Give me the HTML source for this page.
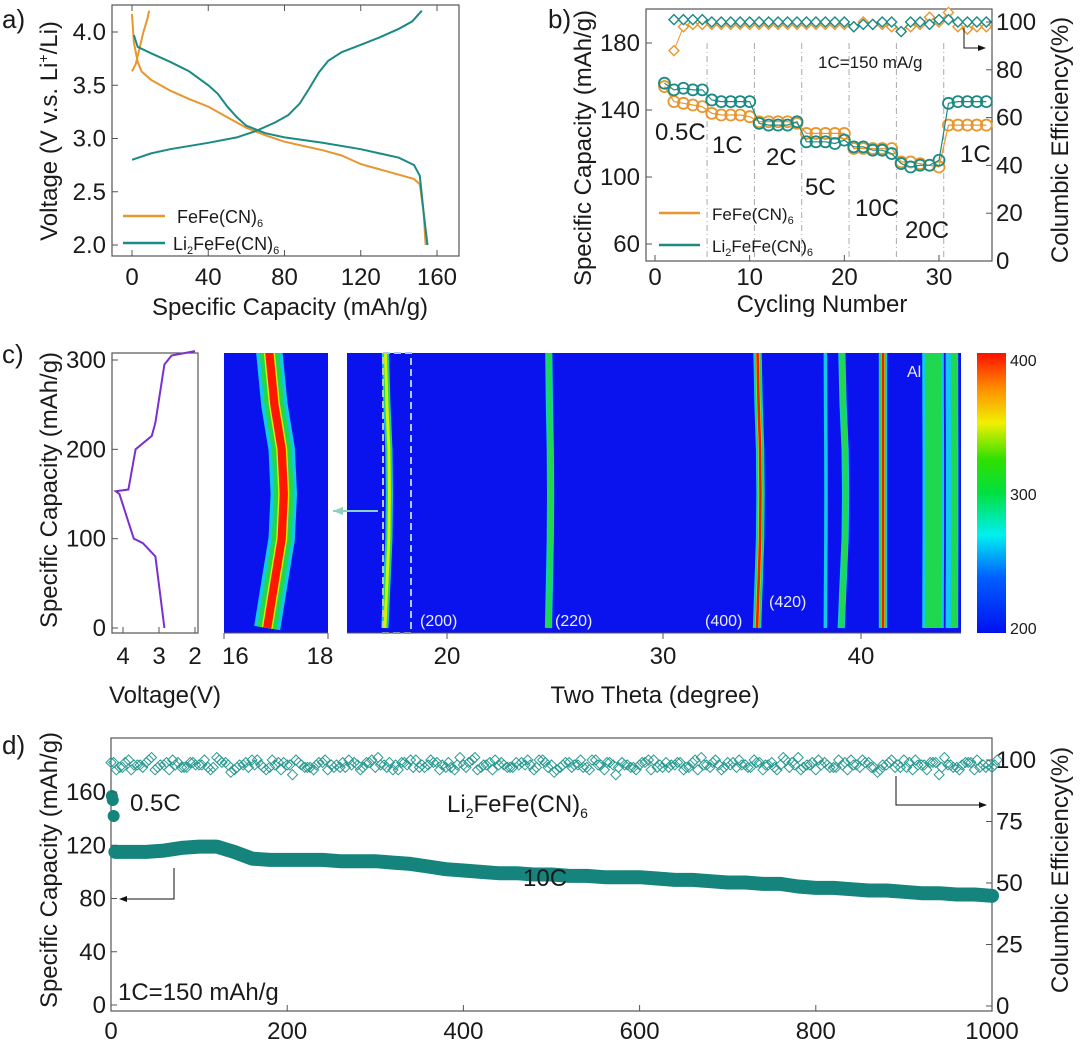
<!DOCTYPE html>
<html><head><meta charset="utf-8">
<style>
html,body{margin:0;padding:0;background:#fff;}
svg{display:block;font-family:"Liberation Sans",sans-serif;}
</style></head>
<body>
<svg id="fig" width="1080" height="1041" viewBox="0 0 1080 1041" xmlns="http://www.w3.org/2000/svg">
<defs>
<linearGradient id="cbar" x1="0" y1="1" x2="0" y2="0">
<stop offset="0" stop-color="#0010f0"/><stop offset="0.2" stop-color="#0060ff"/><stop offset="0.35" stop-color="#00f0f0"/>
<stop offset="0.5" stop-color="#00e040"/><stop offset="0.62" stop-color="#30e000"/><stop offset="0.75" stop-color="#f0f000"/>
<stop offset="0.87" stop-color="#ff9000"/><stop offset="1" stop-color="#ff1000"/></linearGradient>
<marker id="arr" markerWidth="8" markerHeight="6" refX="7" refY="3" orient="auto"><path d="M0,0 L8,3 L0,6 z" fill="#111"/></marker>
</defs>
<g id="root"></g>
</svg>
<script>
// ---------- Panel a data ----------
const aFeDisX=[0,1,3,5,10,20,30,40,50,60,70,80,90,100,110,120,130,140,148,151,153,154];
const aFeDisV=[4.17,3.9,3.72,3.63,3.55,3.45,3.37,3.3,3.2,3.1,3.03,2.97,2.93,2.89,2.84,2.76,2.71,2.66,2.62,2.57,2.3,2.0];
const aFeChX=[0,2,4,6,8,9];
const aFeChV=[3.63,3.7,3.85,4.0,4.12,4.2];
const aLiChX=[0,10,20,40,55,65,75,82,88,93,98,103,110,120,130,140,147,152];
const aLiChV=[2.8,2.86,2.9,2.96,3.01,3.07,3.15,3.22,3.33,3.47,3.62,3.73,3.81,3.88,3.95,4.03,4.1,4.2];
const aLiDisX=[1,3,10,20,30,40,45,50,55,60,70,80,100,120,140,148,151,153,155];
const aLiDisV=[3.97,3.86,3.8,3.72,3.63,3.5,3.42,3.3,3.2,3.12,3.05,3.01,2.96,2.9,2.82,2.75,2.65,2.3,2.0];
const aXTicks=[0,40,80,120,160];
const aYTicks=[2.0,2.5,3.0,3.5,4.0];
// ---------- Panel b data ----------
const bCycles=[1,2,3,4,5,6,7,8,9,10,11,12,13,14,15,16,17,18,19,20,21,22,23,24,25,26,27,28,29,30,31,32,33,34,35];
const bLiCap=[156,152,153,152,152,146,145,145,145,145,132,131,131,131,133,121,121,121,120,122,118,118,116,116,114,108,106,107,107,110,144,145,145,145,145];
const bFeCap=[154,145,144,143,142,138,137,137,137,136,133,133,133,133,132,126,126,126,126,126,117,117,117,117,117,109,109,108,107,106,131,131,131,131,131];
const bCECycles=[2,3,4,5,6,7,8,9,10,11,12,13,14,15,16,17,18,19,20,21,22,23,24,25,26,27,28,29,30,31,32,33,34,35];
const bFeCE=[88,98,99,99,99,99,99,99,99,99,99,99,99,99,99,99,99,99,99,98,100,99,99,98,96,98,99,102,100,104,98,97,98,98];
const bLiCE=[101,101,101,101,100,100,100,100,100,100,100,100,100,100,100,100,100,100,100,98,99,99,100,100,96,100,100,99,101,101,100,100,100,100];
const bRates=["0.5C","1C","2C","5C","10C","20C","1C"];
const bXTicks=[0,10,20,30];
const bYTicks=[60,100,140,180];
const bY2Ticks=[0,20,40,60,80,100];
// ---------- Panel c data ----------
const cCap=[0,80,95,100,150,153,155,200,215,230,295,305,310];
const cVolt=[2.85,3.1,3.45,3.7,4.1,4.2,3.85,3.65,3.2,3.1,2.85,2.65,2.0];
const cShiftCap=[0,50,100,150,200,250,310];
const cShift=[0,0.07,0.14,0.16,0.14,0.07,0.02];
const cPeaks=[16.83,19.13,24.7,34.75,38.2,39.0,41.1,43.6,44.35,44.65];
const cPeakLevel=[3,2,1.7,2.4,0.4,1.0,3,1.0,0.6,1.0];
const cPeakShiftScale=[2,0.4,0.6,1.1,0.2,1.4,0,0.1,0.1,0.1];
const cPeakWidth=[11,3,3,3.5,1.5,3,3.5,9,2,3.5];
const cPeakLabels=["(200)","(220)","(400)","(420)","Al"];
const cYTicks=[0,100,200,300];
const cVTicks=[4,3,2];
const c2Ticks=[20,30,40];
const cbTicks=[200,300,400];
// ---------- Panel d data ----------
const dCycles=[1,2,3,5,20,40,60,80,100,120,140,160,180,200,220,240,260,280,300,320,340,360,380,400,420,440,460,480,500,520,540,560,580,600,620,640,660,680,700,720,740,760,780,800,820,840,860,880,900,920,940,960,980,1000];
const dCap=[157,154,142,115,115,115,116,118,119,119,115,110,109,109,109,109,108,108,108,107,106,104,102,101,100,99,99,98,98,97,97,96,96,96,95,94,94,93,92,92,91,91,89,88,88,87,86,86,85,84,84,83,83,82];
const dCE=[99,97,100,98,99,96,98,100,97,99,98,97,101,99,96,98,100,98,97,99,98,100,97,96,99,98,97,100,98,99,97,98,96,99,100,97,98,99,97,96,98,100,97,99,98,97,99,98,96,100,98,97,99,98,97,100,96,98,99,97,98,100,97,99,98,96,99,101,97,98,99,97,98,100,96,99,98,97,101,98,96,99,97,98,100,97,99,95,98,97,100,96,98,99,94,98,97,99,96,98,97];
const dXTicks=[0,200,400,600,800,1000];
const dYTicks=[0,40,80,120,160];
const dY2Ticks=[0,25,50,75,100];

const NS="http://www.w3.org/2000/svg";
const root=document.getElementById('root');
function mk(tag,attrs,parent,text){const e=document.createElementNS(NS,tag);for(const k in attrs)e.setAttribute(k,attrs[k]);if(text!==undefined)e.textContent=text;(parent||root).appendChild(e);return e;}
function lin(d0,d1,p0,p1){return v=>p0+(v-d0)*(p1-p0)/(d1-d0);}
function path(xs,ys,fx,fy){return xs.map((x,i)=>(i?'L':'M')+fx(x).toFixed(1)+','+fy(ys[i]).toFixed(1)).join(' ');}
const AX='#555', TXT='#1a1a1a', OR='#e8962e', TE='#1b8a84';
const FS=24, TFS=24;

// ===== Panel a =====
const ga=mk('g',{});


const ax=lin(0,160,132,437), ay=lin(4,2,32,245);
mk('text',{x:2,y:28,'font-size':26,fill:TXT},ga,'a)');
mk('rect',{x:112,y:5,width:347,height:251,fill:'none',stroke:AX,'stroke-width':1.2},ga);
const curvesA=[[aFeDisX,aFeDisV,OR,'fefe-discharge-curve'],[aFeChX,aFeChV,OR,'fefe-charge-curve'],[aLiChX,aLiChV,TE,'li2fefe-charge-curve'],[aLiDisX,aLiDisV,TE,'li2fefe-discharge-curve']];
curvesA.forEach(c=>{const p=mk('path',{d:path(c[0],c[1],ax,ay),fill:'none',stroke:c[2],'stroke-width':2},ga);

});
aXTicks.forEach(t=>{mk('line',{x1:ax(t),x2:ax(t),y1:256,y2:250,stroke:AX},ga);mk('line',{x1:ax(t),x2:ax(t),y1:5,y2:11,stroke:AX},ga);
const l=mk('text',{x:ax(t),y:285,'font-size':FS,'text-anchor':'middle',fill:TXT},ga,String(t));

});
aYTicks.forEach(t=>{mk('line',{x1:112,x2:118,y1:ay(t),y2:ay(t),stroke:AX},ga);
const l=mk('text',{x:106,y:ay(t)+8,'font-size':FS,'text-anchor':'end',fill:TXT},ga,t.toFixed(1));

});
mk('text',{x:290,y:315,'font-size':TFS,'text-anchor':'middle',fill:TXT},ga,'Specific Capacity (mAh/g)');
const aty=mk('text',{x:0,y:0,'font-size':TFS,'text-anchor':'middle',fill:TXT,transform:'translate(57,131) rotate(-90)'},ga);
aty.innerHTML='Voltage (V v.s. Li<tspan font-size="14" dy="-9">+</tspan><tspan dy="9">/Li)</tspan>';


mk('line',{x1:123,x2:165,y1:216,y2:216,stroke:OR,'stroke-width':2.5},ga);
mk('line',{x1:123,x2:165,y1:243,y2:243,stroke:TE,'stroke-width':2.5},ga);
const la1=mk('text',{x:177,y:223,'font-size':18,fill:TXT},ga);la1.innerHTML='FeFe(CN)<tspan font-size="11" dy="4">6</tspan>';


const la2=mk('text',{x:173,y:250,'font-size':18,fill:TXT},ga);la2.innerHTML='Li<tspan font-size="11" dy="4">2</tspan><tspan dy="-4">FeFe(CN)</tspan><tspan font-size="11" dy="4">6</tspan>';



// ===== Panel b =====
const gb=mk('g',{});


const bx=lin(0,30,655,939), by=lin(180,60,43,244), by2=lin(0,100,261,22);
mk('text',{x:548,y:28,'font-size':26,fill:TXT},gb,'b)');
mk('rect',{x:646,y:9,width:346,height:252,fill:'none',stroke:AX,'stroke-width':1.2},gb);
[5.5,10.5,15.5,20.5,25.5,30.5].forEach(c=>{mk('line',{x1:bx(c),x2:bx(c),y1:43,y2:261,stroke:'#aaa','stroke-dasharray':'6,3,1,3'},gb);});
[[bFeCap,OR,'fefe-capacity'],[bLiCap,TE,'li2fefe-capacity']].forEach(s=>{
 mk('path',{d:path(bCycles,s[0],bx,by),fill:'none',stroke:s[1],'stroke-width':1.2},gb);
 s[0].forEach((v,i)=>{const c=mk('circle',{cx:bx(bCycles[i]),cy:by(v),r:5.5,fill:'none',stroke:s[1],'stroke-width':1.8},gb);
 
 });
});
[[bFeCE,OR,'fefe-ce'],[bLiCE,TE,'li2fefe-ce']].forEach(s=>{
 mk('path',{d:path(bCECycles,s[0],bx,by2),fill:'none',stroke:s[1],'stroke-width':1},gb);
 s[0].forEach((v,i)=>{const X=bx(bCECycles[i]),Y=Math.max(by2(v),12);const d=mk('path',{d:`M${X},${Y-5} L${X+5},${Y} L${X},${Y+5} L${X-5},${Y} Z`,fill:'#fff',stroke:s[1],'stroke-width':1.4},gb);
 
 });
});
bXTicks.forEach(t=>{mk('line',{x1:bx(t),x2:bx(t),y1:261,y2:255,stroke:AX},gb);
const l=mk('text',{x:bx(t),y:285,'font-size':FS,'text-anchor':'middle',fill:TXT},gb,String(t));

});
bYTicks.forEach(t=>{mk('line',{x1:646,x2:652,y1:by(t),y2:by(t),stroke:AX},gb);
const l=mk('text',{x:640,y:by(t)+8,'font-size':FS,'text-anchor':'end',fill:TXT},gb,String(t));

});
bY2Ticks.forEach(t=>{mk('line',{x1:992,x2:986,y1:by2(t),y2:by2(t),stroke:AX},gb);
const l=mk('text',{x:996,y:by2(t)+8,'font-size':FS,fill:TXT},gb,String(t));

});
mk('text',{x:822,y:312,'font-size':TFS,'text-anchor':'middle',fill:TXT},gb,'Cycling Number');
mk('text',{x:0,y:0,'font-size':TFS,'text-anchor':'middle',fill:TXT,transform:'translate(591,148) rotate(-90)'},gb,'Specific Capacity (mAh/g)');
mk('text',{x:0,y:0,'font-size':TFS,'text-anchor':'middle',fill:TXT,transform:'translate(1068,140) rotate(-90)'},gb,'Columbic Efficiency(%)');
mk('text',{x:818,y:68,'font-size':17,fill:TXT},gb,'1C=150 mA/g');
mk('path',{d:'M964,28 L964,48 L985,48',fill:'none',stroke:'#111','marker-end':'url(#arr)'},gb);
const rateX=[655,712,766,805,855,905,960], rateY=[140,153,165,195,216,238,162];
bRates.forEach((r,i)=>{const t=mk('text',{x:rateX[i],y:rateY[i],'font-size':24,fill:TXT},gb,r);

});
mk('line',{x1:659,x2:700,y1:213,y2:213,stroke:OR,'stroke-width':2.5},gb);
mk('line',{x1:659,x2:700,y1:245,y2:245,stroke:TE,'stroke-width':2.5},gb);
const lb1=mk('text',{x:712,y:220,'font-size':17,fill:TXT},gb);lb1.innerHTML='FeFe(CN)<tspan font-size="11" dy="4">6</tspan>';


const lb2=mk('text',{x:712,y:252,'font-size':17,fill:TXT},gb);lb2.innerHTML='Li<tspan font-size="11" dy="4">2</tspan><tspan dy="-4">FeFe(CN)</tspan><tspan font-size="11" dy="4">6</tspan>';



// ===== Panel c =====
const gc=mk('g',{});


const cy=lin(0,300,628,360), cvx=lin(4,2,123,195);
mk('text',{x:2,y:363,'font-size':26,fill:TXT},gc,'c)');
mk('rect',{x:112,y:353,width:86,height:280,fill:'none',stroke:AX,'stroke-width':1.2},gc);
const vc=mk('path',{d:path(cVolt,cCap,cvx,cy),fill:'none',stroke:'#7a2fd0','stroke-width':2},gc);


cYTicks.forEach(t=>{mk('line',{x1:112,x2:118,y1:cy(t),y2:cy(t),stroke:AX},gc);
const l=mk('text',{x:106,y:cy(t)+8,'font-size':FS,'text-anchor':'end',fill:TXT},gc,String(t));

});
cVTicks.forEach(t=>{mk('line',{x1:cvx(t),x2:cvx(t),y1:633,y2:627,stroke:AX},gc);
const l=mk('text',{x:cvx(t),y:664,'font-size':FS,'text-anchor':'middle',fill:TXT},gc,String(t));

});
mk('text',{x:165,y:703,'font-size':TFS,'text-anchor':'middle',fill:TXT},gc,'Voltage(V)');
mk('text',{x:0,y:0,'font-size':TFS,'text-anchor':'middle',fill:TXT,transform:'translate(57,490) rotate(-90)'},gc,'Specific Capacity (mAh/g)');
const hx1=lin(16,18,224,328);
const hKnD=[18.6,20,30,40,45], hKnP=[347,447,663,861,961];
function hx2(d){for(let i=0;i<hKnD.length-1;i++){if(d<=hKnD[i+1]||i==hKnD.length-2)return hKnP[i]+(d-hKnD[i])*(hKnP[i+1]-hKnP[i])/(hKnD[i+1]-hKnD[i]);}}
const clipDefs=mk('defs',{},gc);
const cp1=mk('clipPath',{id:'hc1'},clipDefs);mk('rect',{x:224,y:353,width:104,height:280},cp1);
const cp2=mk('clipPath',{id:'hc2'},clipDefs);mk('rect',{x:347,y:353,width:614,height:280},cp2);
const h1=mk('rect',{x:224,y:353,width:104,height:280,fill:'#0a12ee'},gc);


const h2=mk('rect',{x:347,y:353,width:614,height:280,fill:'#0a12ee'},gc);


const gh1=mk('g',{'clip-path':'url(#hc1)'},gc), gh2=mk('g',{'clip-path':'url(#hc2)'},gc);
cPeaks.forEach((p,i)=>{
 const first=p<18, fx=first?hx1:hx2, g=first?gh1:gh2;
 const xs=cShiftCap.map((c,k)=>p+cShift[k]*cPeakShiftScale[i]);
 const d=path(xs,cShiftCap,fx,cy);
 const lvl=cPeakLevel[i], w=cPeakWidth[i];
 const layers=[['#10c8f0',w*2.4,0],['#20d850',w*1.8,0.8],['#d8f000',w*1.0,1.8],['#ff1800',w*0.75,2.2]];
 layers.forEach(L=>{if(lvl>=L[2]){const pth=mk('path',{d:d,fill:'none',stroke:L[0],'stroke-width':L[1],'stroke-linejoin':'round'},g);
 
 }});
});
mk('rect',{x:383,y:353,width:28,height:280,fill:'none',stroke:'#b0c8f0','stroke-width':2,'stroke-dasharray':'7,4'},gc);
mk('line',{x1:333,x2:378,y1:511,y2:511,stroke:'#8ed0c0','stroke-width':2},gc);
mk('path',{d:'M333,511 L343,507 L343,515 Z',fill:'#8ed0c0'},gc);
const pl=[[420,626],[555,626],[705,626],[769,607],[907,377]];
cPeakLabels.forEach((s,i)=>{const t=mk('text',{x:pl[i][0],y:pl[i][1],'font-size':16,fill:'#e8ecff'},gc,s);

});
[16,18].forEach(t=>{mk('line',{x1:hx1(t),x2:hx1(t),y1:633,y2:639,stroke:AX},gc);
mk('text',{x:hx1(t)+(t==16?-2:-8),y:664,'font-size':FS,'text-anchor':t==16?'start':'middle',fill:TXT},gc,String(t));});
mk('line',{x1:224,x2:328,y1:633,y2:633,stroke:AX},gc);
mk('line',{x1:347,x2:961,y1:633,y2:633,stroke:AX},gc);
c2Ticks.forEach(t=>{mk('line',{x1:hx2(t),x2:hx2(t),y1:633,y2:639,stroke:AX},gc);
const l=mk('text',{x:hx2(t),y:664,'font-size':FS,'text-anchor':'middle',fill:TXT},gc,String(t));

});
mk('text',{x:655,y:703,'font-size':TFS,'text-anchor':'middle',fill:TXT},gc,'Two Theta (degree)');
const cb=mk('rect',{x:977,y:353,width:29,height:280,fill:'url(#cbar)'},gc);


const cbs=lin(200,400,628,360);
cbTicks.forEach(t=>{const l=mk('text',{x:1010,y:cbs(t)+6,'font-size':16,fill:TXT},gc,String(t));

});

// ===== Panel d =====
const gd=mk('g',{});


const dx=lin(0,1000,111,992), dy=lin(0,160,1005,792), dy2=lin(0,100,1006,760);
mk('text',{x:2,y:754,'font-size':26,fill:TXT},gd,'d)');
mk('rect',{x:111,y:738,width:881,height:273,fill:'none',stroke:AX,'stroke-width':1.2},gd);
const offs=[0,3,6];
offs.forEach((o,k)=>{dCE.forEach((v,i)=>{const X=dx(i*10+o),Y=dy2(dCE[(i+k*37)%dCE.length]);const d=mk('path',{d:`M${X},${Y-5} L${X+5},${Y} L${X},${Y+5} L${X-5},${Y} Z`,fill:'none',stroke:'#2a9a92','stroke-width':1},gd);

});});
const band=mk('path',{d:path(dCycles.slice(3),dCap.slice(3),dx,dy),fill:'none',stroke:'#14847c','stroke-width':14,'stroke-linejoin':'round','stroke-linecap':'round'},gd);


dCycles.forEach((c,i)=>{const p=mk('circle',{cx:dx(c),cy:dy(dCap[i]),r:6,fill:'#14847c'},gd);

});
dXTicks.forEach(t=>{mk('line',{x1:dx(t),x2:dx(t),y1:1011,y2:1005,stroke:AX},gd);
const l=mk('text',{x:dx(t),y:1039,'font-size':FS,'text-anchor':'middle',fill:TXT},gd,String(t));

});
dYTicks.forEach(t=>{mk('line',{x1:111,x2:117,y1:dy(t),y2:dy(t),stroke:AX},gd);
const l=mk('text',{x:106,y:dy(t)+8,'font-size':FS,'text-anchor':'end',fill:TXT},gd,String(t));

});
dY2Ticks.forEach(t=>{mk('line',{x1:992,x2:986,y1:dy2(t),y2:dy2(t),stroke:AX},gd);
const l=mk('text',{x:996,y:dy2(t)+8,'font-size':FS,fill:TXT},gd,String(t));

});
mk('text',{x:0,y:0,'font-size':TFS,'text-anchor':'middle',fill:TXT,transform:'translate(57,870) rotate(-90)'},gd,'Specific Capacity (mAh/g)');
mk('text',{x:0,y:0,'font-size':TFS,'text-anchor':'middle',fill:TXT,transform:'translate(1068,870) rotate(-90)'},gd,'Columbic Efficiency(%)');
mk('text',{x:130,y:811,'font-size':24,fill:TXT},gd,'0.5C');
const dl=mk('text',{x:447,y:812,'font-size':24,fill:TXT},gd);dl.innerHTML='Li<tspan font-size="14" dy="6">2</tspan><tspan dy="-6">FeFe(CN)</tspan><tspan font-size="14" dy="6">6</tspan>';


mk('text',{x:523,y:886,'font-size':24,fill:TXT},gd,'10C');
mk('text',{x:118,y:1000,'font-size':24,fill:TXT},gd,'1C=150 mAh/g');
mk('path',{d:'M174,868 L174,899 L120,899',fill:'none',stroke:'#111','marker-end':'url(#arr)'},gd);
mk('path',{d:'M896,776 L896,805 L986,805',fill:'none',stroke:'#111','marker-end':'url(#arr)'},gd);
</script>
</body></html>
